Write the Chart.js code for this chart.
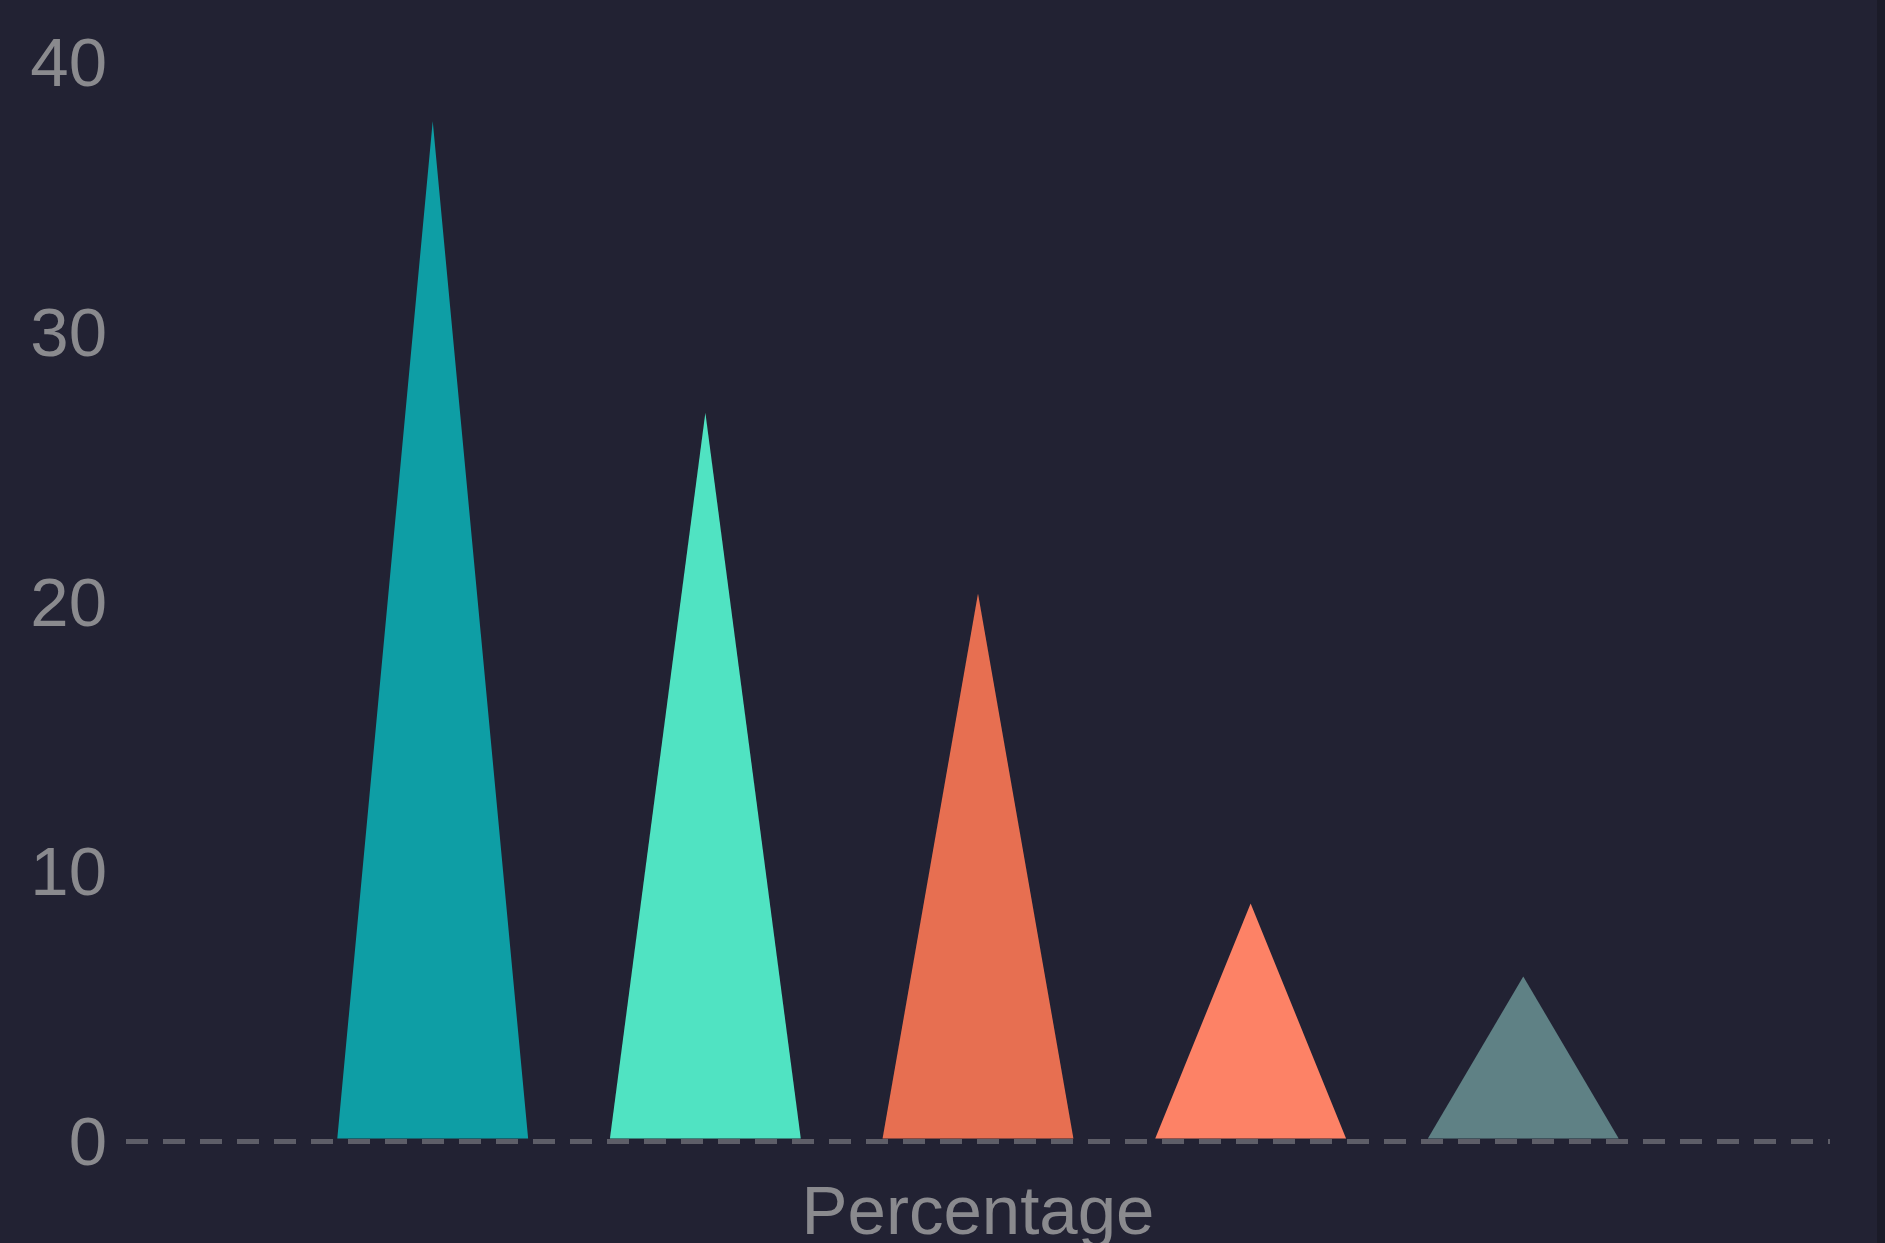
<!DOCTYPE html>
<html>
<head>
<meta charset="utf-8">
<script src="https://cdn.jsdelivr.net/npm/chart.js@4"></script>
<style>
  html, body { margin: 0; padding: 0; background: #1b1b28; overflow: hidden; }
  #wrap { width: 1877px; height: 1243px; background: #222233; }
</style>
</head>
<body>
<div id="wrap"><canvas id="shareChart" width="1877" height="1243"></canvas></div>
<script>
var categories = ["Percentage"];
var seriesNames = ["Series A", "Series B", "Series C", "Series D", "Series E"];
var seriesValues = [37.8, 27.0, 20.3, 8.8, 6.1];
var seriesColors = ["#0e9ea5", "#50e3c2", "#e76f51", "#fd8266", "#5f8185"];
var yTicks = [0, 10, 20, 30, 40];

// draw each bar as a triangle from its own element geometry
var trianglePlugin = {
    id: "triangles",
    beforeDatasetDraw: function (chart, args) {
        var ctx = chart.ctx;
        args.meta.data.forEach(function (bar) {
            var p = bar.getProps(["x", "y", "base", "width"], true);
            ctx.save();
            ctx.fillStyle = bar.options.backgroundColor;
            ctx.beginPath();
            ctx.moveTo(p.x - p.width / 2, p.base);
            ctx.lineTo(p.x, p.y);
            ctx.lineTo(p.x + p.width / 2, p.base);
            ctx.closePath();
            ctx.fill();
            ctx.restore();
        });
        return false;
    }
};

var ctx = document.getElementById("shareChart").getContext("2d");
var shareChart = new Chart(ctx, {
    type: "bar",
    data: {
        labels: categories,
        datasets: seriesValues.map(function (v, i) {
            return {
                label: seriesNames[i],
                data: [v],
                backgroundColor: seriesColors[i],
                barPercentage: 0.7,
                categoryPercentage: 0.8
            };
        })
    },
    options: {
        responsive: false,
        animation: false,
        layout: { padding: { top: 62, left: 30, right: 47, bottom: 0 } },
        plugins: {
            legend: { display: false },
            tooltip: { enabled: false }
        },
        scales: {
            x: {
                grid: { display: false },
                border: { display: false },
                ticks: {
                    color: "#8a8a8e",
                    padding: 25,
                    font: { family: "Liberation Sans", size: 69, lineHeight: 1.2 }
                },
                afterFit: function (scale) { scale.height = 102; }
            },
            y: {
                min: 0,
                max: 40,
                afterBuildTicks: function (scale) {
                    scale.ticks = yTicks.map(function (v) { return { value: v }; });
                },
                grid: {
                    drawTicks: false,
                    lineWidth: 5,
                    color: function (c) {
                        return c.tick && c.tick.value === 0 ? "#5e5e68" : "rgba(0,0,0,0)";
                    }
                },
                border: { display: false, dash: [22, 15] },
                ticks: {
                    color: "#8a8a8e",
                    padding: 19,
                    labelOffset: 5,
                    font: { family: "Liberation Sans", size: 69 }
                },
                afterFit: function (scale) { scale.width = 96; }
            }
        }
    },
    plugins: [trianglePlugin]
});
</script>
</body>
</html>
